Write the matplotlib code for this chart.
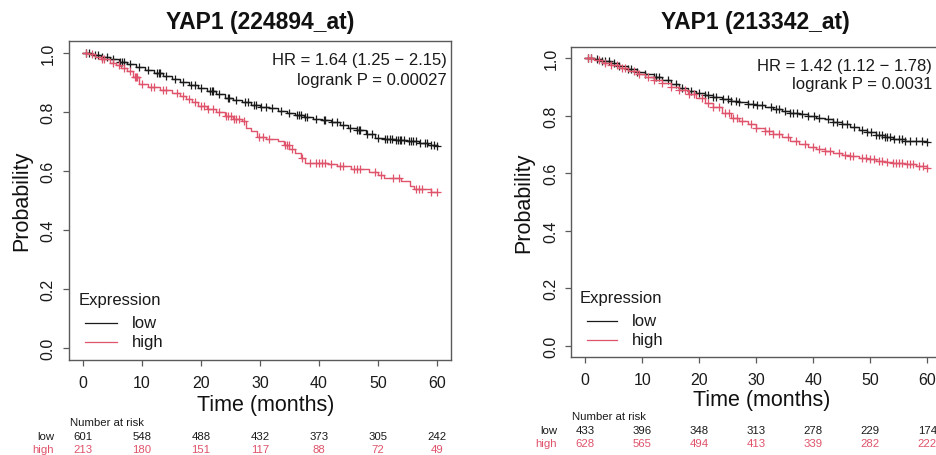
import numpy as np
import matplotlib
matplotlib.use("Agg")
import matplotlib.pyplot as plt
from matplotlib.transforms import blended_transform_factory

plt.rcParams['font.family'] = ['Liberation Sans', 'DejaVu Sans']

# ---------------- data ----------------
titles = ["YAP1 (224894_at)", "YAP1 (213342_at)"]
hr_texts = ["HR = 1.64 (1.25 \u2212 2.15)", "HR = 1.42 (1.12 \u2212 1.78)"]
p_texts = ["logrank P = 0.00027", "logrank P = 0.0031"]
group_labels = ["low", "high"]
risk_times = [0, 10, 20, 30, 40, 50, 60]

# Panel 1 (224894_at)
p1_low_t = [0, 1.5, 3, 4.5, 6, 7.5, 9, 10.5, 12, 13.5, 15, 16.5, 18, 19.5, 21, 22.5, 24, 25.5,
            27, 28.5, 30, 31.5, 33, 34.5, 36, 37.5, 39, 40.5, 42, 43.5, 45, 46.5, 48, 49.5,
            51, 53, 55, 57, 58.5, 60]
p1_low_s = [1.0, 0.993, 0.985, 0.978, 0.970, 0.962, 0.951, 0.942, 0.930, 0.920, 0.910, 0.901,
            0.892, 0.882, 0.872, 0.860, 0.848, 0.840, 0.832, 0.825, 0.818, 0.812, 0.803, 0.795,
            0.788, 0.782, 0.776, 0.771, 0.765, 0.757, 0.747, 0.737, 0.725, 0.713, 0.708, 0.705,
            0.701, 0.694, 0.688, 0.684]
p1_low_cens = [0.5, 1, 2, 3.2, 4, 5, 6.2, 7, 8, 9.5, 11, 12.5, 13, 14, 15.5, 17, 18.3, 19, 20,
               21.5, 22, 23, 24.5, 26, 27.5, 28, 29, 30.2, 31, 32, 33.5, 35, 36.2, 37, 37.6, 38,
               39.5, 41, 42.2, 43, 44, 45.2, 46.5, 47, 48.2, 49, 50, 51.2, 51.6, 52, 53, 53.4,
               54, 54.5, 55.2, 55.6, 56, 57.2, 58, 59, 59.5, 60, 2.5, 6.6, 12.8, 21.8, 24.8,
               29.4, 36.6, 40.8, 46.8, 52.4, 53.8, 56.4, 58.4]
p1_high_t = [0, 1, 2, 3, 4.5, 5.5, 6.5, 7.5, 8.5, 9.5, 11, 13, 15, 16.5, 17.5, 18.5, 19.5, 21,
             22.5, 24, 25.5, 27, 27.7, 28.5, 29.5, 31, 33, 34, 35, 36, 37, 37.6, 41.5, 43,
             45.5, 48.5, 50, 51, 54, 55.5, 56.2, 59, 60]
p1_high_s = [1.0, 0.995, 0.985, 0.978, 0.967, 0.958, 0.948, 0.937, 0.918, 0.895, 0.885, 0.875,
             0.865, 0.855, 0.845, 0.832, 0.820, 0.810, 0.800, 0.787, 0.777, 0.770, 0.745, 0.735,
             0.714, 0.709, 0.700, 0.688, 0.676, 0.660, 0.645, 0.627, 0.622, 0.617, 0.605, 0.598,
             0.585, 0.575, 0.565, 0.548, 0.538, 0.530, 0.530]
p1_high_cens = [0.5, 1.5, 3.2, 3.6, 5, 6, 7, 8, 9, 10, 11.5, 12, 13.5, 14, 16, 17, 18, 19, 20,
                20.5, 21.2, 22, 23, 24.2, 24.6, 25, 26, 27.3, 29.8, 30.5, 31.5, 34.2, 34.6,
                35.5, 37.2, 38.5, 39.5, 40, 40.5, 41, 42, 43.5, 44, 46, 46.5, 47, 49.5, 50.5,
                52.5, 53.5, 56.5, 57, 57.5, 59, 60, 8.8, 9.2, 25.6, 26.4, 34.9]

# Panel 2 (213342_at)
p2_low_t = [0, 1.5, 3, 4.5, 6, 7.5, 9, 10.5, 12, 13.5, 15, 16.5, 18, 19.5, 21, 22.5, 24, 25.5,
            27, 28.5, 30, 31.5, 33, 34.5, 36, 37.5, 39, 40.5, 42, 43.5, 45, 46.5, 48, 49.5,
            51, 52.5, 54, 56, 58, 60]
p2_low_s = [1.0, 0.995, 0.990, 0.982, 0.972, 0.963, 0.953, 0.943, 0.933, 0.922, 0.908, 0.896,
            0.886, 0.878, 0.871, 0.865, 0.858, 0.852, 0.846, 0.840, 0.835, 0.829, 0.823, 0.816,
            0.810, 0.804, 0.798, 0.793, 0.788, 0.779, 0.770, 0.760, 0.750, 0.741, 0.733, 0.725,
            0.719, 0.713, 0.710, 0.708]
p2_low_cens = [0.5, 1, 2, 3, 4.2, 5, 6, 7.5, 8, 9, 10.5, 12, 13, 14.5, 16, 17, 18.5, 20, 21,
               22.5, 23, 24.2, 25, 26.5, 27, 28.5, 29.5, 30.2, 31, 32.5, 34, 35, 36, 36.5, 38,
               39, 40.2, 41, 42.5, 43.5, 45, 46, 47.2, 48.5, 49.5, 50.2, 51, 51.5, 52, 53, 53.5,
               54.2, 55, 56, 57, 58, 59, 60, 3.5, 12.4, 21.6, 25.6, 33.4, 37.2, 44.2, 52.6,
               55.6]
p2_high_t = [0, 1.5, 3, 4.5, 6, 7.5, 9, 10.5, 12, 13.5, 15, 16.5, 18, 19.5, 21, 22.5, 24, 25.5,
             27, 28.5, 30, 31.5, 33, 34.5, 36, 37.5, 39, 40.5, 42, 43.5, 45, 46.5, 48, 49.5,
             51, 52.5, 54, 56, 58, 60]
p2_high_s = [1.0, 0.992, 0.983, 0.975, 0.965, 0.955, 0.945, 0.935, 0.924, 0.912, 0.900, 0.887,
             0.874, 0.860, 0.845, 0.828, 0.808, 0.792, 0.781, 0.770, 0.757, 0.746, 0.735, 0.724,
             0.713, 0.702, 0.692, 0.685, 0.677, 0.670, 0.664, 0.658, 0.652, 0.647, 0.642, 0.638,
             0.636, 0.630, 0.624, 0.619]
p2_high_cens = [0.5, 1, 2.5, 3.5, 4.5, 5.5, 7, 8.5, 9.5, 11, 12, 13.5, 15, 16.5, 17.5, 19,
                20.5, 21.5, 22.5, 23.5, 24.5, 25.2, 26, 27.5, 29, 30, 31.5, 33, 34, 35.5,
                37, 38.5, 40, 41, 42, 43, 44.5, 45.5, 46.5, 47, 48.5, 49.2, 50, 51.5, 52,
                53, 54, 54.5, 55.5, 56.5, 57, 57.5, 58.5, 59.2, 60, 6.4, 18.2, 26.6, 32.2,
                50.6, 55.0]

p1_risk_low = [601, 548, 488, 432, 373, 305, 242]
p1_risk_high = [213, 180, 151, 117, 88, 72, 49]
p2_risk_low = [433, 396, 348, 313, 278, 229, 174]
p2_risk_high = [628, 565, 494, 413, 339, 282, 222]

# ---------------- style ----------------
W, H = 937, 456
C_LOW = "#1a1a1a"
C_HIGH = "#DF536B"
C_FRAME = "#5a5a5a"

fig = plt.figure(figsize=(W / 100, H / 100), dpi=100)


def fx(px):
    return px / W


def fy(py):
    return 1 - py / H


panels = [
    dict(box=(69, 451, 42, 361),
         curves=[(p1_low_t, p1_low_s, p1_low_cens), (p1_high_t, p1_high_s, p1_high_cens)],
         risk=[p1_risk_low, p1_risk_high],
         title_xy=(260, 23), ylab_xy=(22, 201), xlab_xy=(266, 406),
         hr_xy=(447, 61, 80),
         leg=dict(title=(79, 301), line=(85, 117), rows=(324, 343), text=132),
         nar=dict(head=(70, 423), rows=(437, 450), lab=54)),
    dict(box=(571.5, 941, 47.5, 358),
         curves=[(p2_low_t, p2_low_s, p2_low_cens), (p2_high_t, p2_high_s, p2_high_cens)],
         risk=[p2_risk_low, p2_risk_high],
         title_xy=(755, 22), ylab_xy=(524, 203), xlab_xy=(762, 401),
         hr_xy=(932, 66, 85),
         leg=dict(title=(580, 298), line=(587, 617), rows=(322, 341), text=632),
         nar=dict(head=(572, 417), rows=(431, 444), lab=557)),
]

colors = [C_LOW, C_HIGH]

for i, pn in enumerate(panels):
    x0, x1, y0, y1 = pn['box']
    ax = fig.add_axes([fx(x0), fy(y1), (x1 - x0) / W, (y1 - y0) / H])
    ax.set_xlim(-2.4, 62.4)
    ax.set_ylim(-0.04, 1.04)
    for sp in ax.spines.values():
        sp.set_color(C_FRAME)
        sp.set_linewidth(1.0)
    ax.set_xticks(risk_times)
    ax.set_yticks([0.0, 0.2, 0.4, 0.6, 0.8, 1.0])
    ax.set_yticklabels(["0.0", "0.2", "0.4", "0.6", "0.8", "1.0"])
    ax.tick_params(axis='both', direction='out', length=4.5, width=0.9, color=C_FRAME,
                   labelsize=11.5, labelcolor="#1a1a1a")
    ax.tick_params(axis='x', pad=6)
    ax.tick_params(axis='y', pad=5)
    for lab in ax.get_yticklabels():
        lab.set_rotation(90)
        lab.set_va('center')

    for (t, s, cens), c in zip(pn['curves'], colors):
        t = np.asarray(t)
        s = np.asarray(s)
        ax.step(t, s, where='post', color=c, lw=1.0)
        cens = np.asarray(cens)
        idx = np.searchsorted(t, cens, side='right') - 1
        ax.plot(cens, s[idx], ls='none', marker='+', ms=6, mew=0.9, color=c)

    # titles and labels
    fig.text(fx(pn['title_xy'][0]), fy(pn['title_xy'][1]), titles[i], ha='center', va='center',
             fontsize=16.5, fontweight='bold', color="#111111")
    fig.text(fx(pn['ylab_xy'][0]), fy(pn['ylab_xy'][1]), "Probability", rotation=90,
             ha='center', va='center', fontsize=15.5, color="#111111")
    fig.text(fx(pn['xlab_xy'][0]), fy(pn['xlab_xy'][1]), "Time (months)", ha='center',
             va='center', fontsize=15.5, color="#111111")

    # HR text
    hx, hy1, hy2 = pn['hr_xy']
    fig.text(fx(hx), fy(hy1), hr_texts[i], ha='right', va='center', fontsize=12, color="#1a1a1a")
    fig.text(fx(hx), fy(hy2), p_texts[i], ha='right', va='center', fontsize=12, color="#1a1a1a")

    # legend
    lg = pn['leg']
    fig.text(fx(lg['title'][0]), fy(lg['title'][1]), "Expression", ha='left', va='center',
             fontsize=12, color="#1a1a1a")
    for r, (ry, c, lab) in enumerate(zip(lg['rows'], colors, group_labels)):
        fig.add_artist(plt.Line2D([fx(lg['line'][0]), fx(lg['line'][1])], [fy(ry), fy(ry)],
                                  transform=fig.transFigure, color=c, lw=0.9))
        fig.text(fx(lg['text']), fy(ry), lab, ha='left', va='center', fontsize=12,
                 color="#1a1a1a")

    # number at risk
    nr = pn['nar']
    tr = blended_transform_factory(ax.transData, fig.transFigure)
    fig.text(fx(nr['head'][0]), fy(nr['head'][1]), "Number at risk", ha='left', va='center',
             fontsize=8.2, color="#1a1a1a")
    for ry, c, lab, vals in zip(nr['rows'], colors, group_labels, pn['risk']):
        fig.text(fx(nr['lab']), fy(ry), lab, ha='right', va='center', fontsize=8.2, color=c)
        for tt, v in zip(risk_times, vals):
            ax.text(tt, fy(ry), str(v), transform=tr, ha='center', va='center', fontsize=8.2,
                    color=c, clip_on=False)

fig.savefig("out.png", dpi=100)
